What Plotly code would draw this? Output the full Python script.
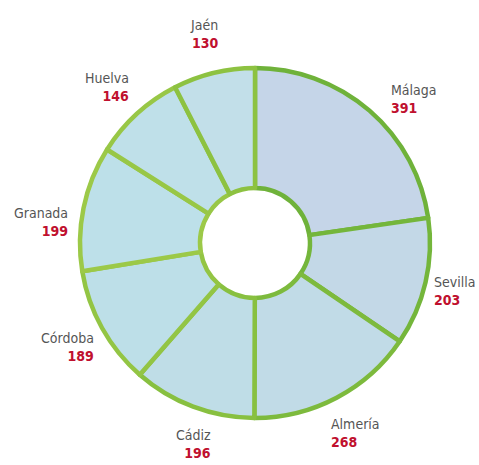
import math

import plotly.graph_objects as go

provinces = ["Málaga", "Sevilla", "Almería", "Cádiz", "Córdoba", "Granada", "Huelva", "Jaén"]
values = [391, 203, 268, 196, 189, 199, 146, 130]

FILLS = ["#c5d5e8", "#c3d8e7", "#c1dbe7", "#bfdde7", "#bddfe8", "#bde0e9", "#bfe0e9", "#c2dfe9"]
LINES = ["#6fb23a", "#74b63b", "#7dba3d", "#88c040", "#93c544", "#9cc948", "#98c746", "#8dc241"]
# small hand nudges (degrees) to the label angle, as in the original layout
NUDGE = {"Málaga": 7, "Cádiz": -4, "Granada": -6, "Huelva": -1}

W, H = 479, 465
CX, CY, R = 255, 243, 175

fig = go.Figure(
    go.Pie(
        labels=provinces,
        values=values,
        sort=False,
        direction="clockwise",
        rotation=0,
        hole=0.314,
        textinfo="none",
        hoverinfo="label+value",
        marker=dict(colors=FILLS, line=dict(color=LINES, width=4.5)),
        domain=dict(x=[(CX - R) / W, (CX + R) / W], y=[(H - CY - R) / H, (H - CY + R) / H]),
        showlegend=False,
    )
)

# labels at each slice's mid angle, outside the ring, kept inside the page
total = sum(values)
cum = 0
for name, val in zip(provinces, values):
    mid = (cum + val / 2) / total * 2 * math.pi + math.radians(NUDGE.get(name, 0))
    cum += val
    dist = 215
    lx = CX + dist * math.sin(mid)
    ly = CY - dist * math.cos(mid)
    hw = len(name) * 3.3 + 1
    lx = min(max(lx, hw), W - hw)
    ly = min(max(ly, 20), H - 21)
    fig.add_annotation(
        x=lx / W,
        y=(H - ly) / H,
        xref="paper",
        yref="paper",
        showarrow=False,
        xanchor="center",
        yanchor="middle",
        align="left" if math.sin(mid) > 0 else "right",
        text=f"<span style='color:#555555'>{name}</span><br><b style='color:#c0102e'>{val}</b>",
        font=dict(family="DejaVu Sans Condensed, Liberation Sans Narrow, sans-serif", size=14),
    )

fig.update_layout(
    width=W,
    height=H,
    margin=dict(l=0, r=0, t=0, b=0),
    paper_bgcolor="#ffffff",
    plot_bgcolor="#ffffff",
)

# drop the default 8px body margin so the figure fills the window
fig.write_html(
    "out.html",
    config={"displayModeBar": False},
    post_script="document.body.style.margin='0';",
)
